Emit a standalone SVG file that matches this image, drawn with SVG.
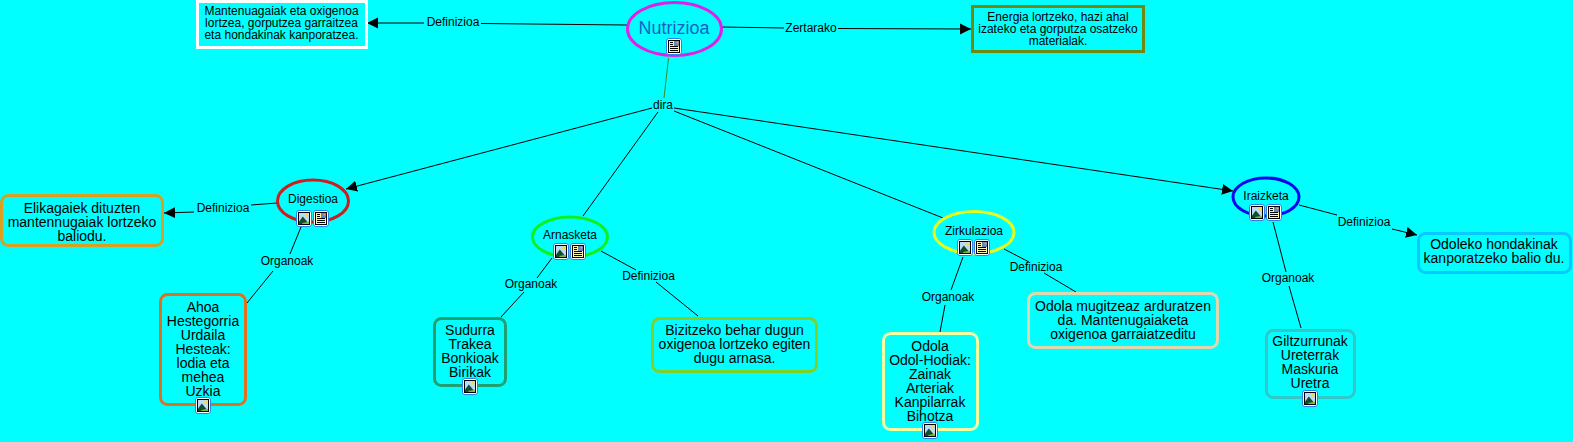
<svg xmlns="http://www.w3.org/2000/svg" width="1573" height="442" viewBox="0 0 1573 442">
<style>
text{font-family:"Liberation Sans",Arial,sans-serif;text-anchor:middle;fill:#000}
.t12{font-size:12px}.t14{font-size:14px}.lab{font-size:12px}
.big{font-size:18px;fill:#1c5ec4}
.n{fill:none;stroke-width:3}
.c line{stroke:#000;stroke-width:1}
.frame{fill:none;stroke:#000;stroke-width:1}
.shell{fill:#fff;stroke:#2f7fe8;stroke-width:1}
</style>
<defs>
<marker id="arr" markerUnits="userSpaceOnUse" markerWidth="12" markerHeight="12" refX="11" refY="5.5" orient="auto"><path d="M0 0L11 5.5L0 11Z" fill="#000"/></marker>
<g id="imgIcon"><rect class="shell" x="0.5" y="0.5" width="15" height="16" rx="2.5"/><rect x="2" y="2" width="12" height="13" fill="#bcdcf6"/><circle cx="10.8" cy="5" r="1.7" fill="#f4d94e"/><path d="M2 13L6.8 6.5L14 15H2Z" fill="#0f4f30"/><path d="M6.5 13L14 11.5V15H6Z" fill="#79c13c"/><rect class="frame" x="2.5" y="2.5" width="11" height="12"/></g>
<g id="docIcon"><rect class="shell" x="0.5" y="0.5" width="15" height="16" rx="2.5"/><rect x="2" y="2" width="12" height="13" fill="#fdf6a8"/><rect x="8" y="3" width="5" height="5" fill="#6a86b0"/><circle cx="11.5" cy="4.6" r="1.1" fill="#e8996a"/><path d="M4 4.5H7M4 6.5H7M4 8.5H12M4 10.5H12M4 12.5H12" stroke="#000" fill="none" stroke-width="1"/><rect class="frame" x="2.5" y="2.5" width="11" height="12"/></g>
</defs>
<rect width="1573" height="442" fill="#00ffff"/>
<g id="connectors" class="c">
<line x1="424" y1="23" x2="367" y2="23" marker-end="url(#arr)"/><line x1="627" y1="25" x2="481" y2="23.5"/>
<line x1="722" y1="27" x2="784" y2="28"/><line x1="838" y1="28.5" x2="971" y2="29" marker-end="url(#arr)"/>
<line x1="668.5" y1="58" x2="664" y2="98" style="stroke:#3f8a2a"/>
<line x1="652" y1="108" x2="346" y2="189" marker-end="url(#arr)"/>
<line x1="658" y1="112" x2="583" y2="216"/>
<line x1="674" y1="111" x2="943" y2="218"/>
<line x1="674" y1="108" x2="1233" y2="191" marker-end="url(#arr)"/>
<line x1="277" y1="203" x2="251" y2="205"/><line x1="194" y1="212" x2="164" y2="213" marker-end="url(#arr)"/>
<line x1="301" y1="227" x2="290" y2="254"/><line x1="273" y1="271" x2="247" y2="303"/>
<line x1="552" y1="258" x2="537" y2="278"/><line x1="524" y1="292" x2="501" y2="317"/>
<line x1="601" y1="251" x2="636" y2="270"/><line x1="656" y1="282" x2="698" y2="316"/>
<line x1="963" y1="257" x2="951" y2="290"/><line x1="945" y1="305" x2="940" y2="332"/>
<line x1="1004" y1="249" x2="1029" y2="262"/><line x1="1044" y1="273" x2="1076" y2="292"/>
<line x1="1273" y1="222" x2="1286" y2="272"/><line x1="1289" y1="286" x2="1301" y2="328"/>
<line x1="1299" y1="205" x2="1337" y2="215"/><line x1="1392" y1="229" x2="1417" y2="235" marker-end="url(#arr)"/>
</g>
<g id="labels">
<text class="lab" x="453" y="26">Definizioa</text>
<text class="lab" x="811" y="32">Zertarako</text>
<text class="lab" x="663" y="109">dira</text>
<text class="lab" x="223" y="212">Definizioa</text>
<text class="lab" x="287" y="265">Organoak</text>
<text class="lab" x="531" y="288">Organoak</text>
<text class="lab" x="648.5" y="280">Definizioa</text>
<text class="lab" x="948" y="301">Organoak</text>
<text class="lab" x="1036" y="271">Definizioa</text>
<text class="lab" x="1288" y="282">Organoak</text>
<text class="lab" x="1364" y="226">Definizioa</text>
</g>
<g id="nutrizioa"><ellipse class="n" cx="674.5" cy="29" rx="47" ry="26.5" stroke="#e020e8"/><text class="big" x="674" y="34">Nutrizioa</text><use href="#docIcon" x="666" y="38"/></g>
<g id="def-nutrizioa"><rect class="n" x="197.5" y="1.5" width="169" height="46" stroke="#fff"/><text class="t12"><tspan x="281.5" y="15">Mantenuagaiak eta oxigenoa</tspan><tspan x="281.5" y="27">lortzea, gorputzea garraitzea</tspan><tspan x="281.5" y="39">eta hondakinak kanporatzea.</tspan></text></g>
<g id="zertarako"><rect class="n" x="972.5" y="6.5" width="171" height="45" stroke="#708a10"/><text class="t12"><tspan x="1058" y="21">Energia lortzeko, hazi ahal</tspan><tspan x="1058" y="33">izateko eta gorputza osatzeko</tspan><tspan x="1058" y="45">materialak.</tspan></text></g>
<g id="digestioa"><ellipse class="n" cx="313" cy="201" rx="35.5" ry="21" stroke="#d01c1c"/><text class="t12" x="313" y="203">Digestioa</text><use href="#imgIcon" x="296" y="210"/><use href="#docIcon" x="313" y="210"/></g>
<g id="def-digestioa"><rect class="n" x="1.5" y="195.5" width="161" height="50" rx="7" stroke="#d8a020"/><text class="t14"><tspan x="82" y="212.5">Elikagaiek dituzten</tspan><tspan x="82" y="226.5">mantennugaiak lortzeko</tspan><tspan x="82" y="240.5">baliodu.</tspan></text></g>
<g id="org-digestioa"><rect class="n" x="160.5" y="294.5" width="85" height="110" rx="7" stroke="#e07020"/><text class="t14"><tspan x="203" y="312">Ahoa</tspan><tspan x="203" y="326">Hestegorria</tspan><tspan x="203" y="340">Urdaila</tspan><tspan x="203" y="354">Hesteak:</tspan><tspan x="203" y="368">lodia eta</tspan><tspan x="203" y="382">mehea</tspan><tspan x="203" y="396">Uzkia</tspan></text><use href="#imgIcon" x="195" y="397"/></g>
<g id="arnasketa"><ellipse class="n" cx="570" cy="237" rx="37.5" ry="20" stroke="#10f020"/><text class="t12" x="570" y="239">Arnasketa</text><use href="#imgIcon" x="553" y="243"/><use href="#docIcon" x="570" y="243"/></g>
<g id="org-arnasketa"><rect class="n" x="434.5" y="318.5" width="71" height="67" rx="7" stroke="#20a070"/><text class="t14"><tspan x="470" y="335">Sudurra</tspan><tspan x="470" y="349">Trakea</tspan><tspan x="470" y="363">Bonkioak</tspan><tspan x="470" y="377">Birikak</tspan></text><use href="#imgIcon" x="462" y="378"/></g>
<g id="def-arnasketa"><rect class="n" x="652.5" y="318.5" width="164" height="53" rx="7" stroke="#80d028"/><text class="t14"><tspan x="734.5" y="335">Bizitzeko behar dugun</tspan><tspan x="734.5" y="349">oxigenoa lortzeko egiten</tspan><tspan x="734.5" y="363">dugu arnasa.</tspan></text></g>
<g id="zirkulazioa"><ellipse class="n" cx="974" cy="232.5" rx="40" ry="21" stroke="#e8ff20"/><text class="t12" x="974" y="235">Zirkulazioa</text><use href="#imgIcon" x="957" y="239"/><use href="#docIcon" x="974" y="239"/></g>
<g id="org-zirkulazioa"><rect class="n" x="883.5" y="333.5" width="94" height="96" rx="7" stroke="#f0ffa0"/><text class="t14"><tspan x="930" y="351">Odola</tspan><tspan x="930" y="365">Odol-Hodiak:</tspan><tspan x="930" y="379">Zainak</tspan><tspan x="930" y="393">Arteriak</tspan><tspan x="930" y="407">Kanpilarrak</tspan><tspan x="930" y="421">Bihotza</tspan></text><use href="#imgIcon" x="922" y="422"/></g>
<g id="def-zirkulazioa"><rect class="n" x="1028.5" y="293.5" width="189" height="54" rx="7" stroke="#dcd8b0"/><text class="t14"><tspan x="1123" y="311">Odola mugitzeaz arduratzen</tspan><tspan x="1123" y="325">da. Mantenugaiaketa</tspan><tspan x="1123" y="339">oxigenoa garraiatzeditu</tspan></text></g>
<g id="iraizketa"><ellipse class="n" cx="1266" cy="197" rx="33" ry="19" stroke="#0808f0"/><text class="t12" x="1266" y="200">Iraizketa</text><use href="#imgIcon" x="1249" y="204"/><use href="#docIcon" x="1266" y="204"/></g>
<g id="org-iraizketa"><rect class="n" x="1266.5" y="330.5" width="88" height="67" rx="7" stroke="#30c8c8"/><text class="t14"><tspan x="1310" y="346">Giltzurrunak</tspan><tspan x="1310" y="360">Ureterrak</tspan><tspan x="1310" y="374">Maskuria</tspan><tspan x="1310" y="388">Uretra</tspan></text><use href="#imgIcon" x="1302" y="390"/></g>
<g id="def-iraizketa"><rect class="n" x="1418.5" y="233.5" width="152" height="39" rx="7" stroke="#08c8ff"/><text class="t14"><tspan x="1494" y="249">Odoleko hondakinak</tspan><tspan x="1494" y="263">kanporatzeko balio du.</tspan></text></g>
</svg>
